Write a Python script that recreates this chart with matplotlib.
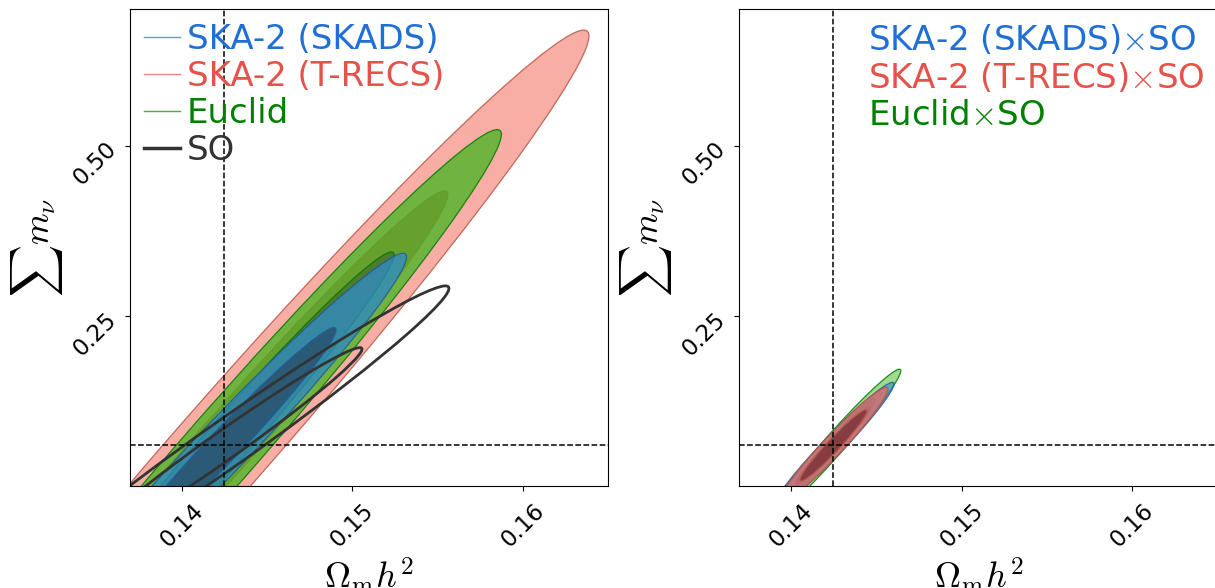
import numpy as np
import matplotlib.pyplot as plt
from matplotlib.patches import Ellipse
from matplotlib.lines import Line2D
from matplotlib.colors import to_rgba

plt.rcParams['mathtext.fontset'] = 'cm'

# fiducial point
om_fid = 0.1425
mnu_fid = 0.06

# single probes: sigma(Omega_m h^2), sigma(sum m_nu), correlation
labels = ['SKA-2 (SKADS)', 'SKA-2 (T-RECS)', 'Euclid', 'SO']
sig_om = [0.00431, 0.00862, 0.00655, 0.00531]
sig_mnu = [0.1137, 0.2458, 0.1869, 0.0944]
corr = [0.981, 0.9856, 0.9847, 0.984]

# cross-correlations with SO
labels_x = [r'SKA-2 (SKADS)$\times$SO', r'SKA-2 (T-RECS)$\times$SO', r'Euclid$\times$SO']
sig_om_x = [0.00143, 0.00129, 0.00159]
sig_mnu_x = [0.0373, 0.0344, 0.0451]
corr_x = [0.974, 0.968, 0.979]

xticks = [0.14, 0.15, 0.16]
yticks = [0.25, 0.50]

text_col = ['#1f6fd6', '#e5524a', 'green', '#333333']
# 2-sigma / 1-sigma colours for SKADS, T-RECS, Euclid
outer_col = ['#2b8cd7', '#f46b5c', '#42b61e']
inner_col = ['#284b69', '#c0392b', '#3c6428']
edge_col = ['#1f5a9a', '#b85545', '#007a00']
alpha_left = [(0.7, 0.75), (0.55, 0.6), (0.75, 0.6)]

outer_col_x = ['#2b8cd7', '#dd6b6a', '#42b61e']
inner_col_x = ['#284b69', '#783237', '#286e14']
alpha_right = [(0.6, 0.5), (0.8, 0.8), (0.5, 0.5)]

levels = [2.48, 1.52]  # 2-sigma, 1-sigma


def ellipse_params(sx, sy, r):
    cov = np.array([[sx**2, r*sx*sy], [r*sx*sy, sy**2]])
    vals, vecs = np.linalg.eigh(cov)
    angle = np.degrees(np.arctan2(vecs[1, 1], vecs[0, 1]))
    return np.sqrt(vals[1]), np.sqrt(vals[0]), angle


def filled(ax, sx, sy, r, cols, alphas, ec):
    a, b, ang = ellipse_params(sx, sy, r)
    for lev, c, al in zip(levels, cols, alphas):
        e = Ellipse((om_fid, mnu_fid), 2*lev*a, 2*lev*b, angle=ang,
                    facecolor=to_rgba(c, al), edgecolor=to_rgba(ec, 0.85), lw=0.9)
        ax.add_patch(e)


def outline(ax, sx, sy, r):
    a, b, ang = ellipse_params(sx, sy, r)
    for lev in levels:
        e = Ellipse((om_fid, mnu_fid), 2*lev*a, 2*lev*b, angle=ang,
                    fill=False, edgecolor=text_col[3], lw=2)
        ax.add_patch(e)


fig = plt.figure(figsize=(12.15, 5.88), dpi=100)
ax1 = fig.add_axes([0.1074, 0.1730, 0.3931, 0.8111])
ax2 = fig.add_axes([0.6086, 0.1730, 0.3938, 0.8111])

# left: single probes (T-RECS, Euclid, SKADS, then SO outline)
for i in [1, 2, 0]:
    filled(ax1, sig_om[i], sig_mnu[i], corr[i],
           (outer_col[i], inner_col[i]), alpha_left[i], edge_col[i])
outline(ax1, sig_om[3], sig_mnu[3], corr[3])

# right: combined with SO
for i in [2, 0, 1]:
    filled(ax2, sig_om_x[i], sig_mnu_x[i], corr_x[i],
           (outer_col_x[i], inner_col_x[i]), alpha_right[i], edge_col[i])

for ax in [ax1, ax2]:
    ax.axvline(om_fid, color='k', ls='--', lw=1.1)
    ax.axhline(mnu_fid, color='k', ls='--', lw=1.1)
    ax.set_xlim(0.137, 0.165)
    ax.set_ylim(0.0, 0.70)
    ax.set_xticks(xticks)
    ax.set_yticks(yticks)
    ax.set_xticklabels(['%.2f' % t for t in xticks], rotation=45, fontsize=16.5)
    ax.set_yticklabels(['%.2f' % t for t in yticks], rotation=45, fontsize=16.5,
                       rotation_mode='anchor', ha='right', va='center')
    ax.tick_params(axis='x', pad=6)
    ax.tick_params(axis='y', pad=9)
    ax.set_xlabel(r'$\Omega_{\rm m} h^2$', fontsize=26)
    ax.set_ylabel(r'$\sum m_\nu$', fontsize=26)
    ax.xaxis.set_label_coords(0.5, -0.145)
    ax.yaxis.set_label_coords(-0.137, 0.5)

handles = [Line2D([], [], color=text_col[0], lw=1, alpha=0.7),
           Line2D([], [], color=text_col[1], lw=1, alpha=0.7),
           Line2D([], [], color=text_col[2], lw=1, alpha=0.7),
           Line2D([], [], color=text_col[3], lw=2.5)]
leg = ax1.legend(handles, labels, loc='upper left', frameon=False, fontsize=24.5,
                 handlelength=1.05, handletextpad=0.2, labelspacing=0.12,
                 borderaxespad=0.2, borderpad=0.2)
for t, c in zip(leg.get_texts(), text_col):
    t.set_color(c)

handles_x = [Line2D([], [], lw=0) for _ in labels_x]
leg2 = ax2.legend(handles_x, labels_x, loc='upper right', frameon=False, fontsize=24.5,
                  handlelength=0, handletextpad=0, labelspacing=0.12,
                  borderaxespad=0.2, borderpad=0.2)
for t, c in zip(leg2.get_texts(), text_col[:3]):
    t.set_color(c)

fig.savefig('out.png', dpi=100)
